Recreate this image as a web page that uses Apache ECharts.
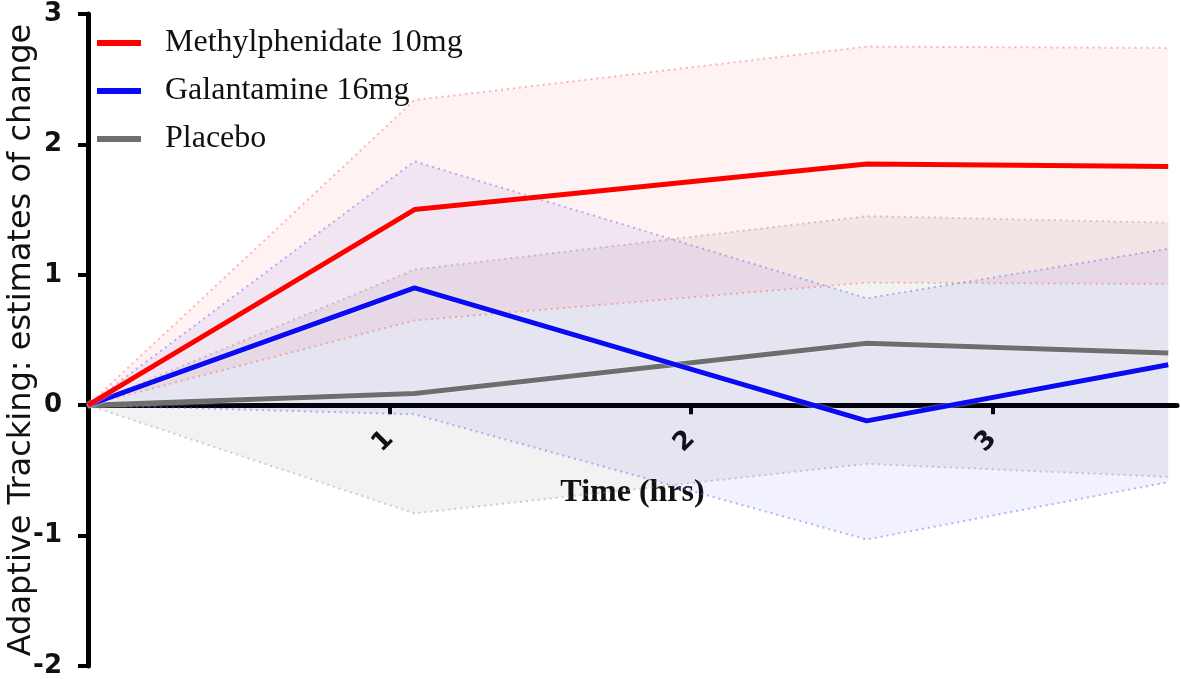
<!DOCTYPE html>
<html>
<head>
<meta charset="utf-8">
<script src="https://cdn.jsdelivr.net/npm/echarts@6/dist/echarts.min.js"></script>
<style>
html,body{margin:0;padding:0;background:#fff;}
#chart{width:1181px;height:679px;}
</style>
</head>
<body>
<div id="chart"></div>
<script>
// Time points (hrs)
const times = [0, 1.083, 2.583, 3.583];
const xTickValues = [1, 2, 3];
const yTickValues = [-2, -1, 0, 1, 2, 3];

const seriesNames = ['Methylphenidate 10mg', 'Galantamine 16mg', 'Placebo'];

const methyl      = [0, 1.50, 1.85, 1.83];
const methylUpper = [0, 2.34, 2.75, 2.74];
const methylLower = [0, 0.65, 0.94, 0.93];

const galant      = [0, 0.90, -0.12, 0.31];
const galantUpper = [0, 1.87, 0.82, 1.20];
const galantLower = [0, -0.07, -1.03, -0.59];

const placebo      = [0, 0.09, 0.475, 0.40];
const placeboUpper = [0, 1.04, 1.45, 1.40];
const placeboLower = [0, -0.83, -0.45, -0.55];

const Y_MIN = -2, Y_MAX = 3;
const GRID = { left: 88, right: 4, top: 14, bottom: 13 };
const CHART_H = 679;
// put the x axis at y = 0 (bottom axis shifted up by the share of the grid below zero)
const gridH = CHART_H - GRID.top - GRID.bottom;
const xAxisOffset = -gridH * (0 - Y_MIN) / (Y_MAX - Y_MIN);

function bandSeries(upper, lower, fill, stroke) {
  return {
    type: 'custom',
    silent: true,
    z: 1,
    data: times.map((t, i) => [t, upper[i], lower[i]]),
    encode: { x: 0, y: [1, 2] },
    renderItem: function (params, api) {
      if (params.dataIndex !== 0) return null;
      const up = times.map((t, i) => api.coord([t, upper[i]]));
      const lo = times.map((t, i) => api.coord([t, lower[i]]));
      const dotted = { stroke: stroke, lineWidth: 2, lineDash: [2, 4], fill: null };
      return {
        type: 'group',
        children: [
          { type: 'polygon', shape: { points: up.concat(lo.slice().reverse()) }, style: { fill: fill } },
          { type: 'polyline', shape: { points: up }, style: dotted },
          { type: 'polyline', shape: { points: lo }, style: dotted }
        ]
      };
    }
  };
}

function lineSeries(name, values, color) {
  return {
    name: name,
    type: 'line',
    z: 3,
    data: times.map((t, i) => [t, values[i]]),
    showSymbol: false,
    symbol: 'none',
    lineStyle: { color: color, width: 5, shadowColor: 'rgba(255,255,255,0.9)', shadowBlur: 2 },
    itemStyle: { color: color }
  };
}

const chart = echarts.init(document.getElementById('chart'), null, { renderer: 'canvas' });
chart.setOption({
  animation: false,
  backgroundColor: '#ffffff',
  grid: Object.assign({ containLabel: false, outerBoundsMode: 'none' }, GRID),
  legend: {
    data: seriesNames,
    orient: 'vertical',
    left: 92,
    top: 22,
    itemWidth: 44,
    itemHeight: 6,
    itemGap: 16,
    icon: 'rect',
    textStyle: { fontFamily: 'Liberation Serif', fontSize: 32, color: '#111', padding: [0, 0, 0, 19] }
  },
  xAxis: {
    type: 'value',
    min: 0,
    max: 3.612,
    position: 'bottom',
    offset: xAxisOffset,
    name: 'Time (hrs)',
    nameLocation: 'middle',
    nameGap: 72,
    nameMoveOverlap: false,
    nameTextStyle: { fontFamily: 'Liberation Serif', fontWeight: 'bold', fontSize: 32, color: '#111' },
    axisLine: { onZero: false, lineStyle: { color: '#000', width: 5 } },
    axisTick: { show: true, customValues: xTickValues, length: 9, lineStyle: { color: '#000', width: 4 } },
    axisLabel: {
      customValues: xTickValues,
      rotate: 45,
      margin: 30,
      fontFamily: 'DejaVu Sans',
      fontWeight: 'bold',
      fontSize: 26,
      color: '#111'
    },
    splitLine: { show: false }
  },
  yAxis: {
    type: 'value',
    min: Y_MIN,
    max: Y_MAX,
    interval: 1,
    name: 'Adaptive Tracking: estimates of change',
    nameLocation: 'middle',
    nameGap: 50,
    nameMoveOverlap: false,
    nameTextStyle: { fontFamily: 'DejaVu Sans', fontSize: 32, color: '#111' },
    axisLine: { show: true, onZero: false, lineStyle: { color: '#000', width: 5 } },
    axisTick: { show: true, length: 10, lineStyle: { color: '#000', width: 4 } },
    axisLabel: {
      margin: 26,
      fontFamily: 'DejaVu Sans',
      fontWeight: 'bold',
      fontSize: 26,
      color: '#111'
    },
    splitLine: { show: false }
  },
  series: [
    bandSeries(placeboUpper, placeboLower, 'rgba(0,0,0,0.05)', 'rgba(150,150,150,0.45)'),
    bandSeries(galantUpper, galantLower, 'rgba(40,40,255,0.06)', 'rgba(90,90,255,0.45)'),
    bandSeries(methylUpper, methylLower, 'rgba(255,40,40,0.06)', 'rgba(255,90,90,0.45)'),
    lineSeries(seriesNames[2], placebo, '#6e6e6e'),
    lineSeries(seriesNames[1], galant, '#0a0af5'),
    lineSeries(seriesNames[0], methyl, '#ff0000')
  ]
});
</script>
</body>
</html>
